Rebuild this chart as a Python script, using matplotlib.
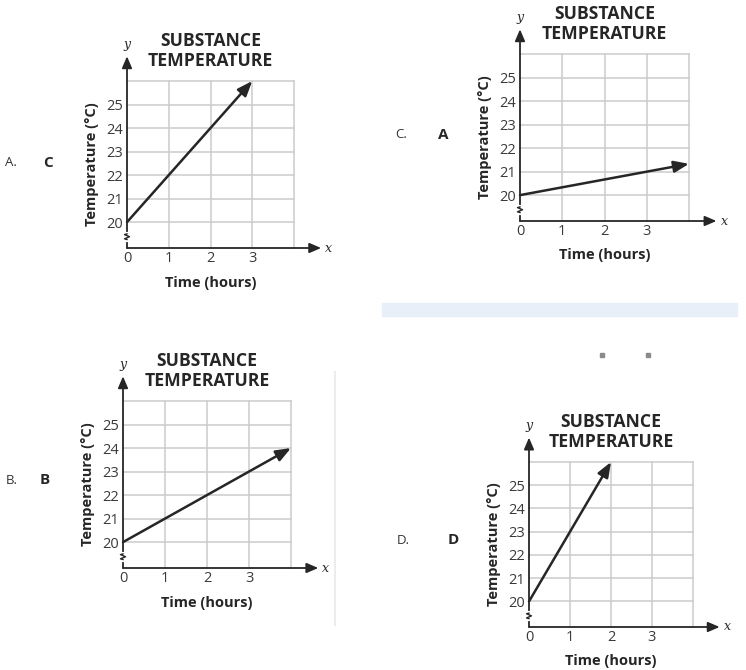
import numpy as np
import matplotlib.pyplot as plt
from matplotlib.patches import Rectangle
from matplotlib.lines import Line2D

plt.rcParams['font.family'] = ['Open Sans', 'DejaVu Sans']

W, H = 746, 670

# data for the four graphs, in reading order A, C, B, D
option_names = ["A.", "C.", "B.", "D."]
graph_letters = ["C", "A", "B", "D"]
start_x = [0, 0, 0, 0]
start_y = [20, 20, 20, 20]
end_x = [3, 4, 4, 2]
end_y = [26, 21.33, 24, 26]
y_ticks = [20, 21, 22, 23, 24, 25]
x_ticks = [0, 1, 2, 3]
y_grid = [20, 21, 22, 23, 24, 25, 26]
x_grid = [1, 2, 3, 4]

# pixel layout: grid left, grid right (x=4), top of grid (y=26), x-axis line
boxes = [(127, 294, 81, 248), (520, 689, 54, 221),
         (123, 291, 401, 568), (529, 693, 462, 627)]
# pixel position of option name and bold letter
name_pos = [(11, 163), (401, 135), (12, 480), (403, 540)]
letter_pos = [(48, 163), (443, 135), (45, 480), (453, 540)]

Y_BOTTOM = 18.9
INK = '#262626'
GRID = '#cccccc'

fig = plt.figure(figsize=(W / 100, H / 100), dpi=100)


def fx(x):
    return x / W


def fy(y):
    return 1 - y / H


for i in range(4):
    left, right, top, bottom = boxes[i]
    ax = fig.add_axes([fx(left), fy(bottom), (right - left) / W, (bottom - top) / H])
    ax.set_xlim(0, 4)
    ax.set_ylim(Y_BOTTOM, 26)
    for s in ax.spines.values():
        s.set_visible(False)

    # grid
    for gx in x_grid:
        ax.plot([gx, gx], [Y_BOTTOM, 26], color=GRID, lw=1.1, clip_on=False, zorder=1)
    for gy in y_grid:
        ax.plot([0, 4], [gy, gy], color=GRID, lw=1.1, clip_on=False, zorder=1)

    # axes with arrows
    ax.annotate('', xy=(0, 27.05), xytext=(0, Y_BOTTOM),
                arrowprops=dict(arrowstyle='-|>,head_length=0.7,head_width=0.3',
                                color=INK, lw=1.3, shrinkA=0, shrinkB=0),
                annotation_clip=False, zorder=3)
    ax.annotate('', xy=(4.65, Y_BOTTOM), xytext=(0, Y_BOTTOM),
                arrowprops=dict(arrowstyle='-|>,head_length=0.7,head_width=0.3',
                                color=INK, lw=1.3, shrinkA=0, shrinkB=0),
                annotation_clip=False, zorder=3)
    ax.text(0, 27.55, 'y', fontsize=9, style='italic', family='DejaVu Serif',
            ha='center', va='center', color=INK)
    ax.text(4.83, Y_BOTTOM, 'x', fontsize=9, style='italic', family='DejaVu Serif',
            ha='center', va='center', color=INK)

    # axis break mark
    zz_x = np.array([0, -0.06, 0.06, -0.06, 0])
    zz_y = np.array([19.5, 19.47, 19.38, 19.29, 19.26])
    ax.plot([0, 0], [19.26, 19.5], color='white', lw=3, zorder=4, clip_on=False)
    ax.plot(zz_x, zz_y, color=INK, lw=1.0, zorder=5, clip_on=False)

    # the graph line
    ax.annotate('', xy=(end_x[i], end_y[i]), xytext=(start_x[i], start_y[i]),
                arrowprops=dict(arrowstyle='-|>,head_length=0.9,head_width=0.35',
                                color=INK, lw=1.8, shrinkA=0, shrinkB=0),
                annotation_clip=False, zorder=6)

    ax.set_yticks(y_ticks)
    ax.set_yticklabels([str(v) for v in y_ticks])
    ax.set_xticks(x_ticks)
    ax.set_xticklabels([str(v) for v in x_ticks])
    ax.tick_params(length=0, labelsize=10.5, colors='#3a3a3a')
    ax.tick_params(axis='y', pad=3)
    ax.tick_params(axis='x', pad=2)
    ax.set_ylabel('Temperature (°C)', fontsize=10.5, fontweight='bold',
                  color=INK, labelpad=5)
    ax.set_xlabel('Time (hours)', fontsize=10.5, fontweight='bold',
                  color=INK, labelpad=7)
    ax.set_title('SUBSTANCE\nTEMPERATURE', fontsize=12.7, fontweight='bold',
                 color=INK, pad=11, linespacing=1.12)

    fig.text(fx(name_pos[i][0]), fy(name_pos[i][1]), option_names[i],
             fontsize=9.5, color='#333333', ha='center', va='center')
    fig.text(fx(letter_pos[i][0]), fy(letter_pos[i][1]), graph_letters[i],
             fontsize=11, fontweight='bold', color=INK, ha='center', va='center')

# page decorations
fig.patches.append(Rectangle((fx(382), fy(316)), (737 - 382) / W, 13 / H,
                             transform=fig.transFigure, color='#e9eff9', zorder=0))
fig.lines.append(Line2D([fx(335), fx(335)], [fy(372), fy(625)],
                        transform=fig.transFigure, color='#ececec', lw=1.5))
fig.lines.append(Line2D([fx(602), fx(648)], [fy(355), fy(355)], transform=fig.transFigure,
                        ls='none', marker='s', markersize=2.2, color='#8a8a8a'))

fig.savefig('out.png', dpi=100)
